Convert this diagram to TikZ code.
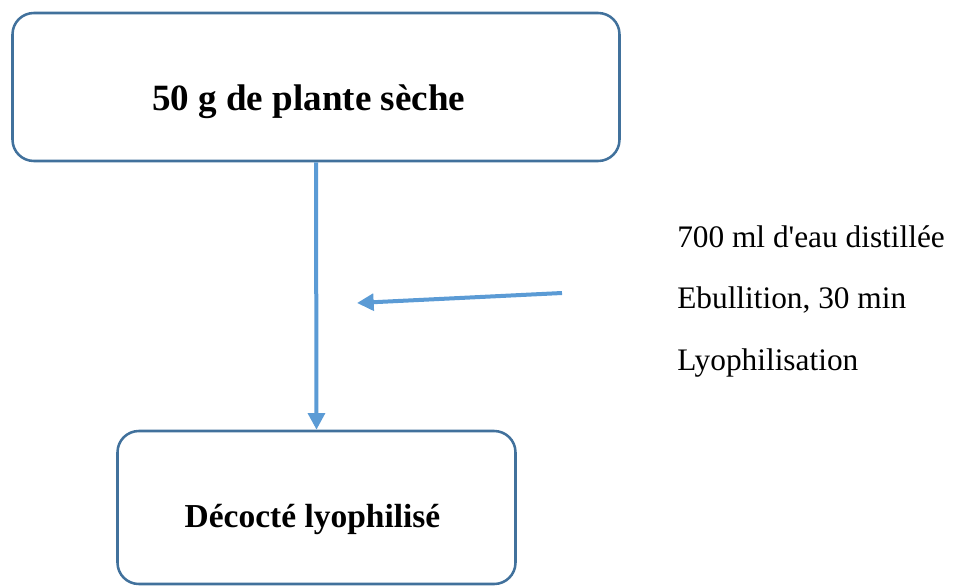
\documentclass[tikz,border=0pt]{standalone}
\usepackage{fontspec}
\setmainfont{Liberation Serif}
\usetikzlibrary{arrows.meta, positioning}
\definecolor{boxline}{HTML}{41719C}
\definecolor{flowblue}{HTML}{5B9BD5}

\begin{document}
\begin{tikzpicture}[x=0.75pt, y=-0.75pt,
    stepbox/.style={draw=boxline, line width=1.9pt, rounded corners=16pt, inner sep=0pt, align=center},
    flow/.style={draw=flowblue, line width=3pt, -{Triangle[length=12.5pt, width=12.5pt]}},
    steptext/.style={inner sep=0pt, anchor=base west, font=\fontsize{23.5}{28}\selectfont}]
\useasboundingbox (0,0) rectangle (953,586);

\node[stepbox, minimum width=455.25pt, minimum height=111pt, text height=36pt, text depth=1.5pt,
      font=\fontsize{27.8}{32}\selectfont\bfseries] (plante) at (316,87) {50 g de plante sèche\hspace*{11pt}};
\node[stepbox, minimum width=298.5pt, minimum height=114.75pt, text height=30pt, text depth=0.75pt,
      font=\fontsize{25.1}{30}\selectfont\bfseries] (decocte) at (316.5,507.5) {Décocté lyophilisé\hspace*{6pt}};

\draw[flow] (plante.south) -- (decocte.north);

\coordinate (ajout) at (562,293);
\coordinate (cible) at (357,303);
\draw[flow] (ajout) -- (cible);

\node[steptext] (eau) at (677,247) {700 ml d\textquotesingle eau distillée};
\node[steptext] (ebullition) at (677,308) {Ebullition, 30 min};
\node[steptext] (lyophilisation) at (677,370) {Lyophilisation};

\end{tikzpicture}
\end{document}
